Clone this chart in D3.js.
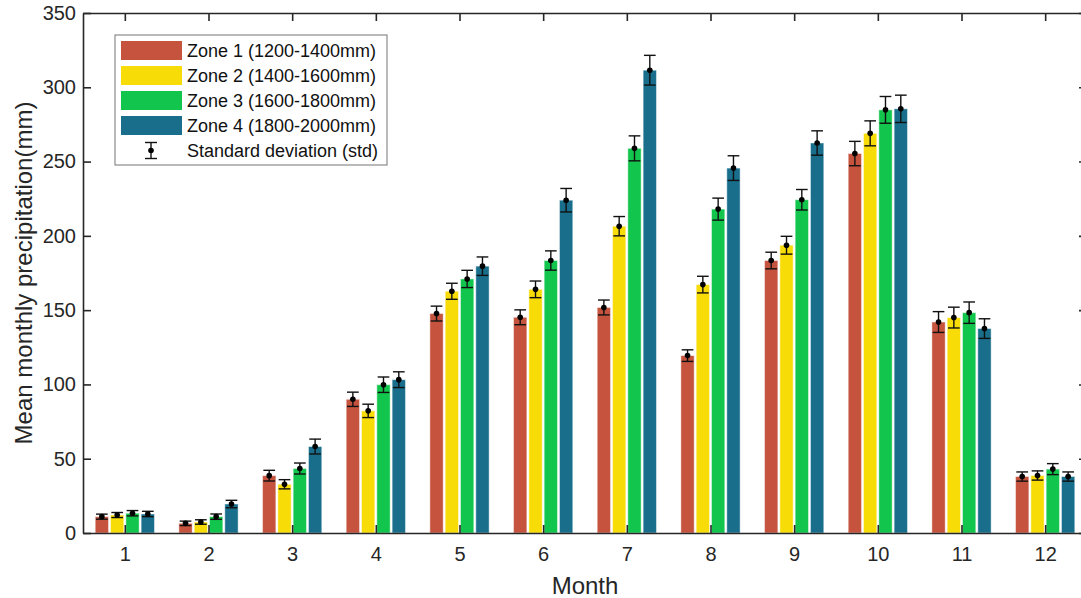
<!DOCTYPE html>
<html>
<head>
<meta charset="utf-8">
<script src="https://cdn.jsdelivr.net/npm/d3@7"></script>
<style>
  body { margin: 0; background: #fff; }
  svg { font-family: "Liberation Sans", Arial, sans-serif; display: block; }
</style>
</head>
<body>
<svg id="chart" width="1081" height="598"></svg>
<script>
// monthly means per zone (mm) and their std
var months = [1, 2, 3, 4, 5, 6, 7, 8, 9, 10, 11, 12];
var zoneNames = ["Zone 1 (1200-1400mm)", "Zone 2 (1400-1600mm)", "Zone 3 (1600-1800mm)", "Zone 4 (1800-2000mm)"];
var zoneColors = ["#c5533e", "#f8dc08", "#12c54c", "#186e8b"];

var zone1 = [11, 6.5, 38.6, 90, 147.7, 145.2, 151.8, 119.4, 183.4, 255.4, 142, 38];
var zone2 = [12.1, 7.4, 32.8, 82.2, 162.7, 164, 206.5, 167.2, 193.7, 269, 145, 38.7];
var zone3 = [13.3, 11, 43.4, 99.8, 171, 183.4, 258.9, 218, 224.3, 284.8, 148.3, 43];
var zone4 = [12.8, 19.5, 58.2, 103.2, 179.6, 224, 311.5, 245.6, 262.5, 285.5, 137.6, 38];

var std1 = [1.7, 1.5, 3.6, 4.8, 5, 5, 5, 3.9, 5.6, 8.2, 7, 3.1];
var std2 = [1.7, 1.5, 3.1, 4.5, 5.4, 5.6, 6.5, 5.6, 6, 8.4, 7, 3.1];
var std3 = [1.8, 1.8, 3.7, 5.2, 5.8, 6.5, 8.4, 7.4, 6.9, 9, 7.2, 3.7];
var std4 = [1.8, 2.5, 5, 5.3, 6.2, 7.9, 10, 8.3, 8.2, 9.2, 6.6, 3.1];

var yTicks = [0, 50, 100, 150, 200, 250, 300, 350];

var means = [zone1, zone2, zone3, zone4];
var stds = [std1, std2, std3, std4];

var margin = {top: 13, left: 83},
    width = 1004,
    height = 520;

var svg = d3.select("#chart");
var g = svg.append("g")
    .attr("transform", "translate(" + margin.left + "," + margin.top + ")");

var x = d3.scaleLinear().domain([0.5, 12.5]).range([0, width]);
var y = d3.scaleLinear().domain([0, 350]).range([height, 0]);

// group layout in month units
var step = 0.183, barW = 0.159, capW = 0.14;

var rows = [];
means.forEach(function (arr, k) {
    arr.forEach(function (v, i) {
        rows.push({zone: k, month: months[i], value: v, std: stds[k][i]});
    });
});
function cx(d) { return x(d.month + (d.zone - 1.5) * step); }

// bars
g.selectAll("rect.bar").data(rows).enter().append("rect")
    .attr("class", "bar")
    .attr("x", function (d) { return cx(d) - (x(barW) - x(0)) / 2; })
    .attr("width", x(barW) - x(0))
    .attr("y", function (d) { return y(d.value); })
    .attr("height", function (d) { return y(0) - y(d.value); })
    .attr("fill", function (d) { return zoneColors[d.zone]; })
    .attr("stroke", "rgba(255,255,255,0.45)")
    .attr("stroke-width", 1);

// error bars
var capHalf = (x(capW) - x(0)) / 2;
var eb = g.selectAll("g.err").data(rows).enter().append("g").attr("class", "err")
    .attr("stroke", "#111").attr("stroke-width", 1.4);
eb.append("line")
    .attr("x1", cx).attr("x2", cx)
    .attr("y1", function (d) { return y(d.value + d.std); })
    .attr("y2", function (d) { return y(d.value - d.std); });
eb.append("line")
    .attr("x1", function (d) { return cx(d) - capHalf; })
    .attr("x2", function (d) { return cx(d) + capHalf; })
    .attr("y1", function (d) { return y(d.value + d.std); })
    .attr("y2", function (d) { return y(d.value + d.std); });
eb.append("line")
    .attr("x1", function (d) { return cx(d) - capHalf; })
    .attr("x2", function (d) { return cx(d) + capHalf; })
    .attr("y1", function (d) { return y(d.value - d.std); })
    .attr("y2", function (d) { return y(d.value - d.std); });
g.selectAll("circle.pt").data(rows).enter().append("circle")
    .attr("cx", cx)
    .attr("cy", function (d) { return y(d.value); })
    .attr("r", 2.8)
    .attr("fill", "#000");

// axes (box with inward ticks)
var axColor = "#262626";
var xAxis = g.append("g").attr("transform", "translate(0," + height + ")")
    .call(d3.axisBottom(x).tickValues(months).tickSizeInner(-8).tickSizeOuter(0).tickPadding(14));
var xTop = g.append("g")
    .call(d3.axisTop(x).tickValues(months).tickSizeInner(-8).tickSizeOuter(0).tickFormat(""));
var yAxis = g.append("g")
    .call(d3.axisLeft(y).tickValues(yTicks).tickSizeInner(-8).tickSizeOuter(0).tickPadding(7));
var yRight = g.append("g").attr("transform", "translate(" + width + ",0)")
    .call(d3.axisRight(y).tickValues(yTicks).tickSizeInner(-8).tickSizeOuter(0).tickFormat(""));

[xAxis, xTop, yAxis, yRight].forEach(function (a) {
    a.select(".domain").attr("stroke", axColor).attr("stroke-width", 1.6);
    a.selectAll(".tick line").attr("stroke", axColor).attr("stroke-width", 1.6);
    a.selectAll(".tick text").attr("fill", axColor).style("font-size", "20px")
        .style("font-family", "'Liberation Sans', Arial, sans-serif");
});

// axis titles
svg.append("text")
    .attr("x", margin.left + width / 2)
    .attr("y", 594)
    .attr("text-anchor", "middle")
    .attr("fill", axColor)
    .style("font-size", "24px")
    .text("Month");
svg.append("text")
    .attr("transform", "translate(32," + (margin.top + height / 2) + ") rotate(-90)")
    .attr("text-anchor", "middle")
    .attr("fill", axColor)
    .style("font-size", "24px")
    .text("Mean monthly precipitation(mm)");

// legend
var legend = svg.append("g").attr("transform", "translate(115,35)");
legend.append("rect")
    .attr("width", 272).attr("height", 130)
    .attr("fill", "#fff").attr("stroke", "#8a8a8a").attr("stroke-width", 1.2);
zoneNames.forEach(function (name, k) {
    var row = legend.append("g").attr("transform", "translate(0," + (15.5 + k * 25) + ")");
    row.append("rect").attr("x", 6).attr("y", -9.5).attr("width", 61).attr("height", 19)
        .attr("fill", zoneColors[k]);
    row.append("text").attr("x", 72).attr("y", 6.5)
        .attr("fill", "#111").style("font-size", "18px").text(name);
});
var sdRow = legend.append("g").attr("transform", "translate(36,115.5)");
sdRow.append("line").attr("x1", 0).attr("x2", 0).attr("y1", -8).attr("y2", 8).attr("stroke", "#111").attr("stroke-width", 1.4);
sdRow.append("line").attr("x1", -6).attr("x2", 6).attr("y1", -8).attr("y2", -8).attr("stroke", "#111").attr("stroke-width", 1.4);
sdRow.append("line").attr("x1", -6).attr("x2", 6).attr("y1", 8).attr("y2", 8).attr("stroke", "#111").attr("stroke-width", 1.4);
sdRow.append("circle").attr("r", 2.8).attr("fill", "#000");
legend.append("text").attr("x", 72).attr("y", 122)
    .attr("fill", "#111").style("font-size", "18px").text("Standard deviation (std)");
</script>
</body>
</html>
